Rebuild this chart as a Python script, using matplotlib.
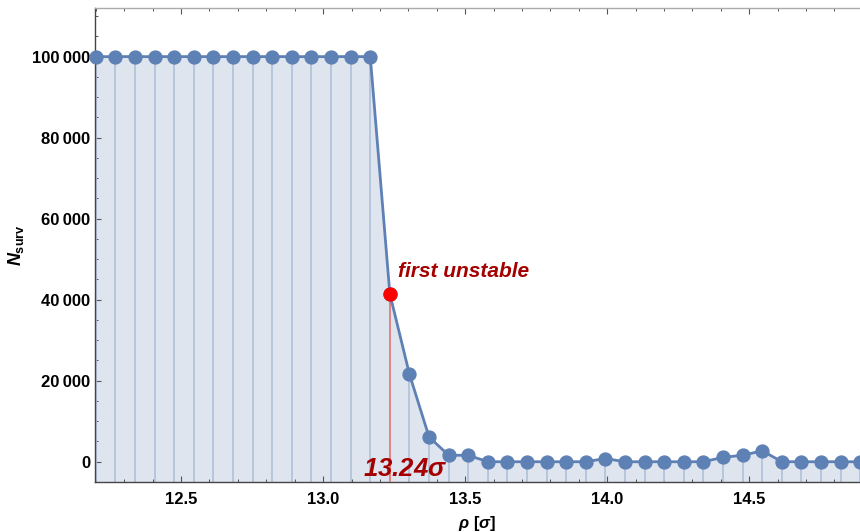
import numpy as np
import matplotlib
matplotlib.use("Agg")
import matplotlib.pyplot as plt
from matplotlib.ticker import MultipleLocator, FuncFormatter

plt.rcParams['font.family'] = ['Liberation Sans', 'DejaVu Sans']
plt.rcParams['mathtext.fontset'] = 'custom'
plt.rcParams['mathtext.rm'] = 'Liberation Sans:bold'
plt.rcParams['mathtext.it'] = 'Liberation Sans:italic:bold'
plt.rcParams['mathtext.bf'] = 'Liberation Sans:bold'

# radius rho in units of sigma
rho = [12.200, 12.269, 12.338, 12.407, 12.476, 12.545, 12.614, 12.683, 12.752, 12.821,
       12.890, 12.959, 13.028, 13.097, 13.166, 13.235, 13.304, 13.373, 13.442, 13.511,
       13.580, 13.649, 13.718, 13.787, 13.856, 13.925, 13.994, 14.063, 14.132, 14.201,
       14.270, 14.339, 14.408, 14.477, 14.546, 14.615, 14.684, 14.753, 14.822, 14.891]
# surviving particles
n_surv = [100000, 100000, 100000, 100000, 100000, 100000, 100000, 100000, 100000, 100000,
          100000, 100000, 100000, 100000, 100000, 41400, 21600, 6100, 1600, 1600,
          0, 0, 0, 0, 0, 0, 800, 0, 0, 0,
          0, 0, 1100, 1600, 2700, 0, 0, 0, 0, 0]
first_idx = 15
first_label = "13.24"

line_col = "#5E81B5"
fill_col = "#dfe5ef"
stem_col = "#b4c3dc"
dark_red = "#a50000"

ymin, ymax = -5000, 112000

fig = plt.figure(figsize=(8.6, 5.32), dpi=100)
ax = fig.add_axes([95/860, 50/532, 765/860, 474/532])

ax.fill_between(rho, ymin, n_surv, color=fill_col, lw=0, zorder=1)
ax.vlines(rho, ymin, n_surv, color=stem_col, lw=1.3, zorder=2)
ax.vlines(rho[first_idx], ymin, n_surv[first_idx], color="#e48080", lw=1.3, zorder=3)
ax.plot(rho, n_surv, color=line_col, lw=2.0, marker='o', ms=9.3,
        mec=line_col, mfc=line_col, zorder=4, clip_on=False)
ax.plot([rho[first_idx]], [n_surv[first_idx]], 'o', color='#ff0000', ms=9.3, zorder=5)

ax.text(13.262, 45700, "first unstable", color=dark_red, fontsize=15,
        fontweight='bold', fontstyle='italic', va='baseline', ha='left')
ax.text(13.14, -3500, first_label + "$\\sigma$", color=dark_red, fontsize=18.5,
        fontweight='bold', fontstyle='italic', va='baseline', ha='left', zorder=6)

ax.set_xlim(12.197, 14.89)
ax.set_ylim(ymin, ymax)

ax.xaxis.set_major_locator(MultipleLocator(0.5))
ax.xaxis.set_minor_locator(MultipleLocator(0.1))
ax.yaxis.set_major_locator(MultipleLocator(20000))
ax.yaxis.set_minor_locator(MultipleLocator(5000))
ax.xaxis.set_major_formatter(FuncFormatter(lambda v, p: f"{v:.1f}"))
ax.yaxis.set_major_formatter(FuncFormatter(lambda v, p: f"{int(v):,}".replace(",", "\u2009")))

ax.tick_params(which='both', direction='in', colors='#555555', labelcolor='black',
               labelsize=12, top=True)
ax.tick_params(which='major', length=4, width=0.8)
ax.tick_params(which='minor', length=2.5, width=0.7)
ax.tick_params(axis='y', which='major', pad=3.5)
ax.tick_params(axis='x', which='major', pad=7)
ax.tick_params(axis='x', which='both', labeltop=False)
for lab in ax.get_xticklabels() + ax.get_yticklabels():
    lab.set_fontweight('bold')

for s in ['left', 'bottom']:
    ax.spines[s].set_color('#444444')
    ax.spines[s].set_linewidth(1.0)
ax.spines['top'].set_color('#aaaaaa')
ax.spines['top'].set_linewidth(1.0)
ax.spines['right'].set_visible(False)

ax.set_xlabel("$\\rho$ [$\\sigma$]", fontsize=12, fontweight='bold', labelpad=5)
ax.set_ylabel("$N_{\\mathrm{surv}}$", fontsize=13, fontweight='bold', labelpad=4)

fig.savefig("out.png", dpi=100)
